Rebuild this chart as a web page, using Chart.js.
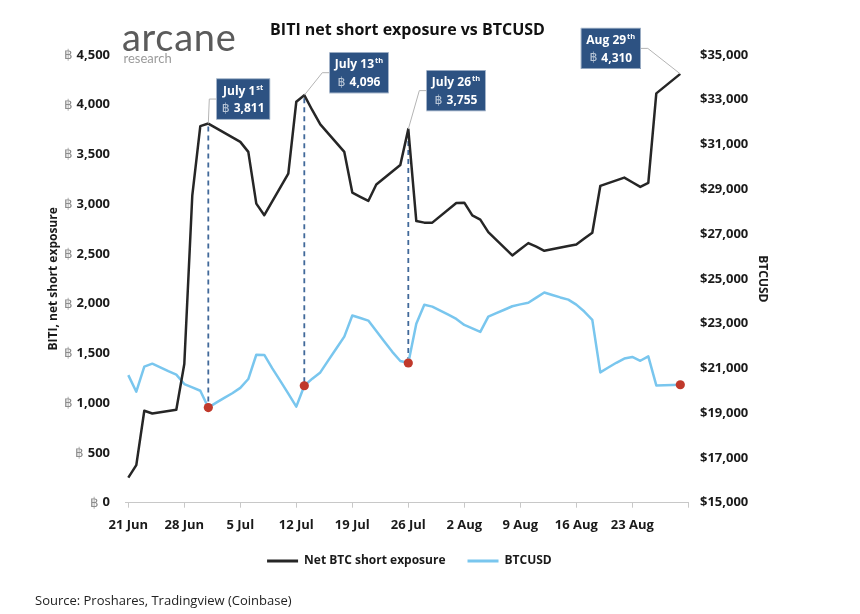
<!DOCTYPE html>
<html><head><meta charset="utf-8">
<script src="https://cdn.jsdelivr.net/npm/chart.js@4.4.1/dist/chart.umd.min.js"></script>
<style>
html,body{margin:0;padding:0;background:#fff;}
#wrap{position:relative;width:860px;height:614px;overflow:hidden;background:#fff;}
canvas{position:absolute;left:0;top:0;}
.t{position:absolute;white-space:nowrap;line-height:1;}
</style></head><body>
<div id="wrap">
<canvas id="c" width="860" height="614"></canvas>
<div class="t" style="left:122px;top:13px;font:400 38px Lato;color:#5b5b5b;letter-spacing:0.7px;">arcane</div>
<div class="t" style="left:123.5px;top:50px;font:400 13px Lato;color:#9b9b9b;">research</div>
<div class="t" style="left:407.5px;top:17.5px;transform:translateX(-50%);font:700 16px 'Open Sans';color:#111;">BITI net short exposure vs BTCUSD</div>
<div class="t" style="left:35px;top:590.8px;font:400 13px 'Open Sans';color:#222;">Source: Proshares, Tradingview (Coinbase)</div>
</div>
<script>
// ---- data (day index 0 = 21 Jun 2022, one entry per calendar day) ----
const xTickDays = [0, 7, 14, 21, 28, 35, 42, 49, 56, 63, 70];
const xTickLabels = ['21 Jun', '28 Jun', '5 Jul', '12 Jul', '19 Jul', '26 Jul', '2 Aug', '9 Aug', '16 Aug', '23 Aug', ''];
// Net BTC short exposure (trading days only, null on non-trading days)
const netShortBTC = [
  252, 377, 924, 897, null, null, 934,
  1394, 3090, 3785, 3811, null, null, null,
  3627, 3526, 3006, 2890, null, null, 3308,
  4030, 4096, 3945, 3802, null, null, 3526,
  3117, 3075, 3033, 3198, null, null, 3395,
  3755, 2831, 2815, 2815, null, null, 3013,
  3016, 2888, 2845, 2720, null, null, 2485,
  2547, 2609, 2573, 2532, null, null, 2580,
  2596, 2655, 2714, 3184, null, null, 3268,
  3221, 3174, 3214, 4114, null, null, 4310
];
// BTCUSD daily close
const btcUsd = [
  20700, 19960, 21080, 21210, 21050, 20880, 20720,
  20300, 20150, 20000, 19250, 19470, 19680, 19890,
  20130, 20525, 21610, 21600, 21000, 20440, 19870,
  19290, 20225, 20540, 20820, 21360, 21890, 22420,
  23360, 23250, 23135, 22670, 22200, 21740, 21330,
  21240, 22990, 23840, 23760, 23580, 23400, 23210,
  22940, 22790, 22630, 23314, 23470, 23620, 23775,
  23860, 23930, 24160, 24390, 24280, 24170, 24070,
  23850, 23540, 23170, 20820, 21040, 21250, 21440,
  21510, 21340, 21540, 20240, 20250, 20260, 20270
];
const highlightDays = [10, 22, 35, 69];
const calloutDates = ['July 1', 'July 13', 'July 26', 'Aug 29'];
const calloutSuffix = ['st', 'th', 'th', 'th'];
const leftMin = 0, leftMax = 4500, leftStep = 500;
const rightMin = 15000, rightMax = 35000, rightStep = 2000;

// ---- styles / layout ----
const FONT = "'Open Sans', sans-serif";
const BLACK = '#262626', BLUE = '#79c6ee', RED = '#c0392b', BOXC = '#2d5282', DASHC = '#41699a';
const calloutLayout = [
  {dx: 8, dy: -45, side: 'left', dashed: true},
  {dx: 25, dy: -43, side: 'left', dashed: true},
  {dx: 18, dy: -59, side: 'left', dashed: true},
  {dx: -39.5, dy: -46, side: 'right', dashed: false}
];

const fmt = v => Number(v).toLocaleString('en-US');

const btcPrefix = {
  id: 'btcPrefix',
  afterDraw(chart) {
    const s = chart.scales.y, ctx = chart.ctx;
    ctx.save();
    s.ticks.forEach(t => {
      const y = s.getPixelForValue(t.value);
      ctx.font = "700 13px " + FONT;
      const w = ctx.measureText(fmt(t.value)).width;
      const xr = s.right - s.options.ticks.padding - w - 4;
      ctx.font = "400 13.5px 'DejaVu Sans', sans-serif";
      ctx.fillStyle = '#8c8c8c';
      ctx.textAlign = 'right';
      ctx.textBaseline = 'middle';
      ctx.fillText('\u0E3F', xr, y + 0.5);
    });
    ctx.restore();
  }
};

const dashPlugin = {
  id: 'dashes',
  beforeDatasetsDraw(chart) {
    const ctx = chart.ctx, x = chart.scales.x, y = chart.scales.y, y1 = chart.scales.y1;
    ctx.save();
    ctx.strokeStyle = DASHC; ctx.lineWidth = 1.8; ctx.setLineDash([5, 4]);
    highlightDays.forEach((d, i) => {
      if (!calloutLayout[i].dashed) return;
      const px = x.getPixelForValue(d);
      ctx.beginPath();
      ctx.moveTo(px, y.getPixelForValue(netShortBTC[d]) + 3);
      ctx.lineTo(px, y1.getPixelForValue(btcUsd[d]));
      ctx.stroke();
    });
    ctx.restore();
  }
};

const calloutPlugin = {
  id: 'callouts',
  afterDatasetsDraw(chart) {
    const ctx = chart.ctx, x = chart.scales.x, y = chart.scales.y;
    ctx.save();
    highlightDays.forEach((d, i) => {
      const L = calloutLayout[i];
      const px = x.getPixelForValue(d), py = y.getPixelForValue(netShortBTC[d]);
      ctx.font = "700 12px " + FONT;
      const wMain = ctx.measureText(calloutDates[i]).width;
      ctx.font = "700 7.5px " + FONT;
      const wSup = ctx.measureText(calloutSuffix[i]).width;
      const w1 = wMain + wSup + 1;
      ctx.font = "400 12.5px 'DejaVu Sans', sans-serif";
      const wB = ctx.measureText('\u0E3F ').width;
      ctx.font = "700 12px " + FONT;
      const wV = ctx.measureText(fmt(netShortBTC[d])).width;
      const w2 = wB + wV;
      const bw = Math.max(w1, w2) + 11, bh = 41;
      const left = L.side === 'left' ? px + L.dx : px + L.dx - bw;
      const top = py + L.dy;
      const mid = top + bh / 2;
      // connector
      ctx.strokeStyle = '#b4b4b4'; ctx.lineWidth = 1; ctx.setLineDash([]);
      ctx.beginPath();
      ctx.moveTo(px, py);
      if (L.side === 'left') { ctx.lineTo(left - 7, mid); ctx.lineTo(left, mid); }
      else { ctx.lineTo(left + bw + 7, mid); ctx.lineTo(left + bw, mid); }
      ctx.stroke();
      // box
      ctx.fillStyle = BOXC;
      ctx.fillRect(left, top, bw, bh);
      ctx.strokeStyle = '#c9d3df'; ctx.lineWidth = 0.6;
      ctx.strokeRect(left + 0.3, top + 0.3, bw - 0.6, bh - 0.6);
      const cx = left + bw / 2;
      // line 1
      ctx.textBaseline = 'middle'; ctx.textAlign = 'left';
      let sx = cx - w1 / 2;
      ctx.fillStyle = '#ffffff';
      ctx.font = "700 12px " + FONT;
      ctx.fillText(calloutDates[i], sx, top + 12.7);
      ctx.font = "700 7.5px " + FONT;
      ctx.fillText(calloutSuffix[i], sx + wMain + 1, top + 9);
      // line 2
      sx = cx - w2 / 2;
      ctx.font = "400 12.5px 'DejaVu Sans', sans-serif";
      ctx.fillStyle = '#b9c6d6';
      ctx.fillText('\u0E3F', sx, top + 30.3);
      ctx.font = "700 12px " + FONT;
      ctx.fillStyle = '#ffffff';
      ctx.fillText(fmt(netShortBTC[d]), sx + wB, top + 30.3);
    });
    ctx.restore();
  }
};

Chart.defaults.font.family = FONT;
Chart.defaults.color = '#1a1a1a';

const CH_LEFT = 125.9, CH_RIGHT = 688.3, PAD_RIGHT = 41.2;
new Chart(document.getElementById('c'), {
  type: 'line',
  data: {
    datasets: [
      {
        label: 'Net BTC short exposure',
        data: netShortBTC.map((v, i) => ({x: i, y: v})),
        yAxisID: 'y',
        borderColor: BLACK, backgroundColor: BLACK,
        borderWidth: 2.5, pointRadius: 0, spanGaps: true, tension: 0,
        borderJoinStyle: 'round'
      },
      {
        label: 'BTCUSD',
        data: btcUsd.map((v, i) => ({x: i, y: v})),
        yAxisID: 'y1',
        borderColor: BLUE, backgroundColor: BLUE,
        borderWidth: 2.5, tension: 0, borderJoinStyle: 'round',
        pointRadius: c => highlightDays.includes(c.dataIndex) ? 4.6 : 0,
        pointBackgroundColor: RED, pointBorderWidth: 0
      }
    ]
  },
  options: {
    responsive: false, animation: false, events: [],
    layout: {padding: {top: 55, bottom: 37, left: 0, right: PAD_RIGHT}},
    plugins: {
      tooltip: {enabled: false},
      title: {display: false},
      legend: {
        position: 'bottom',
        labels: {
          boxWidth: 31, boxHeight: 3, padding: 22, color: '#1a1a1a',
          font: {size: 12, weight: '700', family: FONT},
          generateLabels(chart) {
            return Chart.defaults.plugins.legend.labels.generateLabels(chart).map(l => Object.assign(l, {lineWidth: 0}));
          }
        }
      }
    },
    scales: {
      x: {
        type: 'linear', min: -0.3, max: 70,
        afterBuildTicks(s) { s.ticks = xTickDays.map(v => ({value: v})); },
        afterFit(s) { s.height = 30.3; },
        ticks: {
          autoSkip: false, maxRotation: 0, minRotation: 0, padding: 9.5, color: '#1a1a1a',
          font: {size: 13, weight: '700'},
          callback: v => xTickLabels[xTickDays.indexOf(v)] ?? ''
        },
        grid: {display: true, drawOnChartArea: false, drawTicks: true, tickLength: 5, color: '#c8c8c8', lineWidth: 1},
        border: {display: true, color: '#c8c8c8', dash: [2, 2], width: 1}
      },
      y: {
        position: 'left', min: leftMin, max: leftMax,
        afterFit(s) { s.width = CH_LEFT; },
        ticks: {stepSize: leftStep, padding: 15.9, color: '#1a1a1a', font: {size: 13, weight: '700'}, callback: v => fmt(v)},
        grid: {display: false, drawTicks: false},
        border: {display: false},
        title: {display: true, text: 'BITI, net short exposure', color: '#1a1a1a', font: {size: 12, weight: '700'}, padding: {top: 46.8, bottom: 0}}
      },
      y1: {
        position: 'right', min: rightMin, max: rightMax,
        afterFit(s) { s.width = 860 - PAD_RIGHT - CH_RIGHT; },
        ticks: {stepSize: rightStep, padding: 11.7, color: '#1a1a1a', font: {size: 13, weight: '700'}, callback: v => '$' + fmt(v)},
        grid: {display: false, drawTicks: false},
        border: {display: false},
        title: {display: true, text: 'BTCUSD', color: '#1a1a1a', font: {size: 12, weight: '700'}, padding: {top: 49.6, bottom: 0}}
      }
    }
  },
  plugins: [btcPrefix, dashPlugin, calloutPlugin]
});
</script>
</body></html>
